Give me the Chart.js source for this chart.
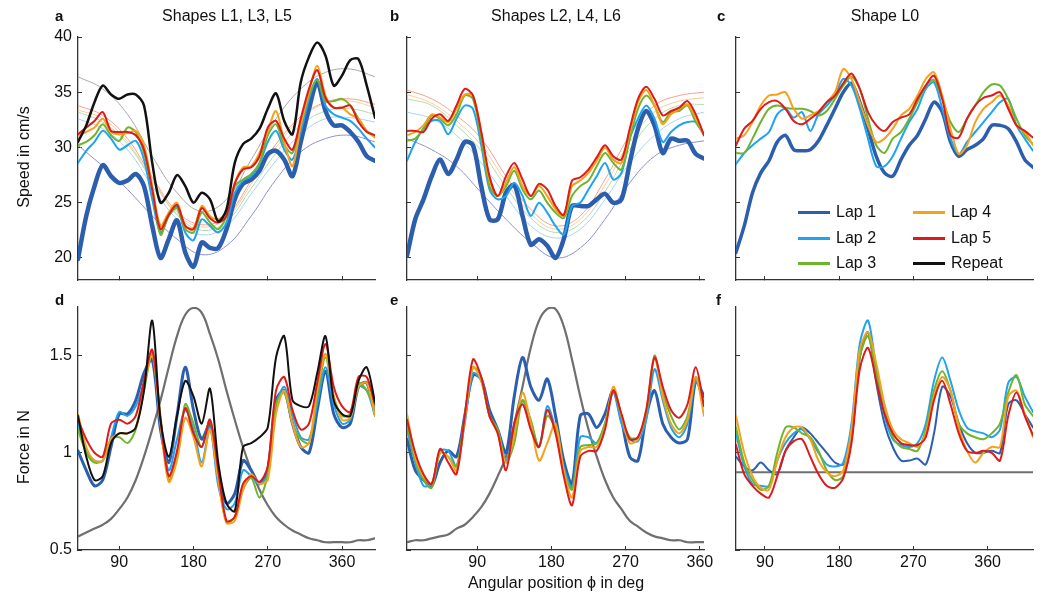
<!DOCTYPE html>
<html>
<head>
<meta charset="utf-8">
<title>Speed and force per lap</title>
<script src="https://cdn.jsdelivr.net/npm/chart.js@4.4.1/dist/chart.umd.min.js"></script>
<style>
  body { margin: 0; background: #fff; width: 1050px; height: 598px; position: relative; overflow: hidden;
         font-family: "Liberation Sans", Arial, sans-serif; color: #111; }
  canvas { position: absolute; }
  .txt { position: absolute; font-size: 16px; line-height: 16px; white-space: nowrap; }
  .letter { position: absolute; font-size: 15px; line-height: 15px; font-weight: bold; }
  .center { transform: translateX(-50%); }
  .ytitle { position: absolute; font-size: 16px; line-height: 16px; white-space: nowrap;
            transform: translate(-50%, -50%) rotate(-90deg); }
  .leg { position: absolute; height: 20px; display: flex; align-items: center; font-size: 16px; }
  .leg span.ln { display: inline-block; width: 32px; height: 3px; margin-right: 6px; }
</style>
</head>
<body>

<canvas id="pa"></canvas>
<canvas id="pb"></canvas>
<canvas id="pc"></canvas>
<canvas id="pd"></canvas>
<canvas id="pe"></canvas>
<canvas id="pf"></canvas>

<div class="letter" style="left:55px;top:8px">a</div>
<div class="letter" style="left:390px;top:8px">b</div>
<div class="letter" style="left:717px;top:8px">c</div>
<div class="letter" style="left:55px;top:292px">d</div>
<div class="letter" style="left:390px;top:292px">e</div>
<div class="letter" style="left:716px;top:292px">f</div>

<div class="txt center" style="left:227px;top:8px">Shapes L1, L3, L5</div>
<div class="txt center" style="left:556px;top:8px">Shapes L2, L4, L6</div>
<div class="txt center" style="left:885px;top:8px">Shape L0</div>

<div class="ytitle" style="left:24px;top:157px">Speed in cm/s</div>
<div class="ytitle" style="left:24px;top:447px">Force in N</div>
<div class="txt center" style="left:556px;top:575px">Angular position ϕ in deg</div>

<div id="legend"></div>

<script>
// angles (deg) per column of panels
const anglesAD = [40,50,60,70,80,90,100,110,120,130,140,150,160,170,180,190,200,210,220,230,240,250,260,270,280,290,300,310,320,330,340,350,360,370,380,390,400];
const anglesBE = [5,15,25,35,45,55,65,75,85,95,105,115,125,135,145,155,165,175,185,195,205,215,225,235,245,255,265,275,285,295,305,315,325,335,345,355,365];
const anglesCF = [55,65,75,85,95,105,115,125,135,145,155,165,175,185,195,205,215,225,235,245,255,265,275,285,295,305,315,325,335,345,355,365,375,385,395,405,415];
const fitAnglesA = [40,70,100,130,160,190,220,250,280,310,340,370,400];
const fitAnglesB = [5,35,65,95,125,155,185,215,245,275,305,335,365];
const modelAnglesF = [55,415];

const xTicks = [90,180,270,360];
const speedTicks = [20,25,30,35,40];
const forceTicks = [0.5,1,1.5];

// a: speed, shapes L1, L3, L5
const speedA_lap1 = [19.9,23.8,26.5,28.4,27.4,26.8,27.0,27.6,26.5,22.9,20.0,21.7,23.4,20.5,19.2,21.4,20.9,20.9,22.6,25.3,26.7,27.1,27.9,29.4,29.7,28.9,27.4,30.5,33.5,35.9,33.3,32.0,32.0,31.4,30.5,29.2,28.8];
const speedA_lap2 = [28.6,29.7,30.5,31.5,30.8,29.8,30.2,30.6,28.9,25.3,22.3,23.8,24.6,22.3,21.6,23.5,22.9,22.3,23.2,25.9,27.0,27.4,28.5,30.5,31.5,29.8,28.9,31.4,34.4,36.2,33.8,33.0,32.7,32.4,31.7,30.8,30.0];
const speedA_lap3 = [30.2,30.5,31.1,32.1,31.1,30.6,31.8,31.4,29.5,26.2,22.1,23.8,24.5,22.6,22.3,24.1,23.2,22.6,23.8,26.5,27.1,27.6,28.6,31.1,32.1,30.2,29.5,32.0,34.7,36.1,34.2,34.2,34.4,33.8,32.6,31.5,31.1];
const speedA_lap4 = [31.1,31.4,31.8,32.6,31.4,31.2,31.3,31.5,30.2,26.5,22.9,24.1,25.0,22.9,22.7,24.7,23.8,23.5,24.1,26.8,28.2,28.3,29.5,31.5,33.3,30.5,28.3,32.0,35.0,37.4,34.7,33.6,33.6,33.0,32.6,31.5,30.9];
const speedA_lap5 = [31.2,31.8,32.4,33.2,31.5,31.4,31.4,31.1,29.8,26.2,22.6,23.9,24.8,22.9,22.6,24.5,23.6,23.2,23.8,26.7,28.0,28.2,29.2,31.8,32.4,30.8,29.8,32.6,35.3,37.0,34.5,33.6,33.6,33.8,32.3,31.4,31.1];
const speedA_repeat = [30.5,32.0,34.1,35.6,34.8,34.4,34.8,34.8,33.8,28.6,25.0,25.9,27.5,26.5,25.0,25.9,25.3,23.3,24.4,28.6,30.3,30.8,31.7,33.5,34.9,32.4,31.2,35.9,38.2,39.5,38.3,35.6,36.5,37.9,38.0,35.6,32.7];
const fitA_lap1 = [30.2,28.3,26.2,23.8,21.7,20.3,21.1,23.8,27.1,29.6,30.8,31.1,30.5];
const fitA_lap2 = [32.6,31.7,29.8,26.5,23.5,22.1,22.9,25.8,28.8,31.2,32.6,32.7,32.3];
const fitA_lap3 = [33.2,32.3,30.3,27.0,23.9,22.5,23.3,26.3,29.5,32.0,33.3,33.5,33.0];
const fitA_lap4 = [33.4,32.6,30.5,27.1,24.0,22.8,23.6,26.7,30.0,32.6,34.0,34.2,33.6];
const fitA_lap5 = [33.8,32.9,30.8,27.3,24.2,23.0,23.8,27.0,30.3,32.8,34.1,34.4,33.9];
const fitA_repeat = [36.4,35.3,33.0,29.2,25.9,24.2,25.3,28.9,32.6,35.3,36.8,37.1,36.4];

// b: speed, shapes L2, L4, L6
const speedB_lap1 = [20.2,23.5,25.3,27.4,28.9,27.6,28.9,30.5,30.2,26.5,23.5,23.5,25.9,26.6,23.8,21.2,21.7,21.1,20.0,21.7,24.7,24.7,24.7,25.3,25.8,25.0,25.3,28.6,31.7,33.3,32.0,29.5,30.8,30.6,30.6,29.4,29.0];
const speedB_lap2 = [28.8,30.5,31.7,32.4,32.4,31.2,32.6,33.8,33.5,30.2,26.2,25.3,25.6,26.8,25.6,23.8,25.0,24.1,22.9,22.1,24.7,25.0,26.2,27.4,28.6,27.1,27.7,30.8,32.6,33.8,32.6,30.5,31.4,32.0,32.3,32.3,31.1];
const speedB_lap3 = [30.6,30.8,31.7,32.9,32.6,32.0,33.0,34.7,34.4,30.8,26.5,25.6,26.5,27.9,26.2,25.3,26.1,25.0,24.1,23.6,25.6,26.5,27.0,28.3,29.5,28.6,28.0,30.8,33.5,34.7,33.8,32.3,33.2,33.3,33.8,32.3,31.2];
const speedB_lap4 = [31.1,31.4,32.0,33.0,32.7,32.3,33.5,34.8,34.7,31.4,27.1,25.6,26.8,28.2,26.5,25.6,26.5,25.6,24.4,23.8,26.5,27.0,27.7,28.8,30.0,28.9,28.6,31.4,34.1,35.2,33.8,32.1,33.0,33.5,33.9,32.7,31.1];
const speedB_lap5 = [31.5,31.5,31.4,32.6,33.0,32.4,33.8,35.3,34.7,31.4,27.4,25.6,27.4,28.6,27.1,25.6,26.7,26.2,24.7,23.9,27.0,27.3,28.0,29.1,30.2,29.2,28.9,31.7,34.4,35.5,34.4,32.9,33.3,33.6,34.2,33.0,31.1];
const fitB_lap1 = [30.8,29.8,28.3,25.9,23.5,21.4,20.0,20.9,23.5,26.8,29.2,30.2,30.6];
const fitB_lap2 = [33.2,32.6,31.1,28.6,25.6,22.9,21.8,22.6,25.3,28.6,31.1,32.6,33.2];
const fitB_lap3 = [34.4,33.8,32.0,29.7,26.4,23.6,22.3,23.1,26.0,29.8,32.6,33.8,33.9];
const fitB_lap4 = [34.8,34.0,32.4,30.2,26.9,24.0,22.6,23.5,26.6,30.5,33.2,34.2,34.5];
const fitB_lap5 = [35.2,34.4,32.9,30.8,27.4,24.4,22.9,23.8,27.1,31.1,33.8,34.7,35.0];

// c: speed, shape L0
const speedC_lap1 = [20.5,22.9,25.9,27.7,28.8,30.5,31.1,29.8,29.7,29.8,30.6,32.0,33.5,35.0,35.8,34.1,31.7,29.2,27.7,27.4,28.9,30.2,31.1,32.6,34.1,33.2,30.5,29.2,29.8,30.2,30.8,32.0,32.0,31.7,30.5,28.9,28.2];
const speedC_lap2 = [28.5,29.5,30.2,30.8,31.4,33.0,33.5,32.7,33.2,31.5,33.0,33.8,34.7,36.2,35.6,33.5,30.8,28.3,28.3,29.2,30.8,32.3,33.5,35.3,35.9,33.5,30.8,29.4,30.5,31.4,32.3,33.2,34.1,34.4,32.0,30.8,29.7];
const speedC_lap3 = [29.5,29.5,30.8,32.3,33.5,33.8,33.6,33.5,33.5,33.3,32.9,33.3,34.4,35.6,36.4,35.3,32.6,30.2,29.5,30.8,31.4,32.6,34.1,35.6,36.1,34.4,32.3,31.4,32.6,33.8,35.0,35.7,35.6,34.4,32.6,31.1,30.3];
const speedC_lap4 = [30.8,31.1,32.3,33.8,34.7,34.8,35.0,33.5,32.6,32.9,33.3,34.1,35.0,37.1,36.2,34.1,32.0,30.5,30.8,31.7,32.9,33.5,34.7,36.2,36.8,34.7,31.7,29.4,30.2,32.3,33.5,34.1,34.7,33.8,32.0,31.4,30.2];
const speedC_lap5 = [30.2,31.7,32.4,33.5,34.1,34.2,33.5,32.4,32.1,32.6,33.2,34.1,34.7,35.8,36.7,35.3,33.2,32.0,31.5,32.3,32.7,33.0,34.4,35.6,36.5,34.4,31.1,30.9,32.6,33.8,34.5,34.7,35.0,33.5,32.0,31.5,30.9];

// d: force, shapes L1, L3, L5
const forceD_lap1 = [1.01,0.91,0.83,0.86,1.03,1.20,1.20,1.27,1.41,1.48,1.12,0.95,1.19,1.44,1.22,1.07,1.15,0.88,0.74,0.79,0.96,0.91,0.84,0.91,1.27,1.32,1.15,1.03,1.00,1.22,1.42,1.20,1.13,1.15,1.34,1.36,1.20];
const forceD_lap2 = [1.15,1.01,0.96,0.96,1.08,1.21,1.19,1.24,1.36,1.52,1.15,0.91,1.07,1.22,1.12,0.95,1.13,0.83,0.71,0.74,0.91,0.88,0.84,0.89,1.24,1.34,1.20,1.08,1.07,1.25,1.44,1.25,1.15,1.17,1.34,1.32,1.19];
const forceD_lap3 = [1.12,1.00,0.95,0.96,1.07,1.08,1.05,1.12,1.32,1.51,1.19,0.86,0.98,1.25,1.15,1.03,1.17,0.88,0.64,0.67,0.81,0.87,0.77,0.89,1.25,1.31,1.15,1.07,1.05,1.29,1.49,1.29,1.19,1.20,1.36,1.32,1.23];
const forceD_lap4 = [1.20,1.03,0.96,0.96,1.07,1.10,1.10,1.13,1.34,1.51,1.15,0.85,0.96,1.18,1.08,0.93,1.12,0.86,0.64,0.65,0.81,0.89,0.84,0.86,1.20,1.32,1.15,1.03,1.05,1.32,1.51,1.29,1.17,1.18,1.34,1.36,1.19];
const forceD_lap5 = [1.17,1.07,1.00,0.98,1.15,1.17,1.15,1.19,1.37,1.53,1.17,0.88,1.01,1.23,1.10,1.03,1.17,0.91,0.65,0.67,0.84,0.88,0.85,0.93,1.32,1.39,1.22,1.12,1.15,1.36,1.56,1.34,1.24,1.21,1.39,1.39,1.25];
const forceD_repeat = [1.19,0.98,0.86,0.88,1.05,1.10,1.10,1.13,1.32,1.68,1.17,0.98,1.19,1.37,1.29,1.15,1.33,0.95,0.74,0.70,1.03,1.05,1.08,1.13,1.49,1.60,1.27,1.24,1.24,1.41,1.60,1.27,1.20,1.19,1.37,1.44,1.26];
const forceD_model = [0.57,0.59,0.61,0.63,0.66,0.71,0.77,0.86,0.98,1.12,1.27,1.44,1.60,1.71,1.745,1.72,1.61,1.48,1.32,1.17,1.03,0.91,0.81,0.73,0.67,0.63,0.60,0.58,0.56,0.55,0.54,0.54,0.54,0.54,0.55,0.55,0.56];

// e: force, shapes L2, L4, L6
const forceE_lap1 = [1.07,0.91,0.86,0.83,0.95,1.01,0.98,1.19,1.40,1.38,1.22,1.12,1.00,1.29,1.49,1.34,1.27,1.38,1.19,0.96,0.84,1.19,1.20,1.13,1.20,1.32,1.17,0.98,0.96,1.19,1.32,1.15,1.08,1.05,1.07,1.37,1.29];
const forceE_lap2 = [1.12,0.95,0.83,0.84,1.01,1.01,0.93,1.15,1.41,1.37,1.19,1.12,0.96,1.12,1.27,1.15,1.03,1.24,1.12,0.93,0.82,1.08,1.08,1.05,1.15,1.31,1.15,1.07,1.06,1.17,1.43,1.27,1.13,1.08,1.15,1.37,1.24];
const forceE_lap3 = [1.15,0.96,0.86,0.82,1.00,0.98,0.93,1.19,1.44,1.39,1.19,1.12,0.95,1.05,1.27,1.17,1.03,1.19,1.12,0.91,0.81,1.03,1.04,1.05,1.15,1.32,1.19,1.08,1.08,1.20,1.50,1.31,1.19,1.12,1.19,1.39,1.24];
const forceE_lap4 = [1.20,0.98,0.88,0.84,1.00,0.98,0.91,1.17,1.44,1.37,1.19,1.10,0.95,1.09,1.31,1.15,0.96,1.05,1.15,0.91,0.77,1.01,1.03,1.03,1.13,1.34,1.19,1.05,1.07,1.22,1.49,1.29,1.15,1.10,1.17,1.39,1.19];
const forceE_lap5 = [1.17,1.00,0.89,0.84,1.02,0.95,0.89,1.19,1.48,1.39,1.19,1.10,0.91,1.15,1.25,1.12,1.03,1.22,1.10,0.88,0.73,0.98,1.01,1.01,1.12,1.32,1.20,1.07,1.08,1.22,1.49,1.34,1.22,1.18,1.25,1.44,1.24];
const forceE_model = [0.54,0.55,0.55,0.56,0.57,0.58,0.61,0.63,0.67,0.72,0.79,0.88,0.98,1.15,1.34,1.54,1.68,1.74,1.74,1.65,1.48,1.29,1.12,0.98,0.86,0.77,0.71,0.65,0.62,0.59,0.57,0.56,0.55,0.55,0.54,0.54,0.54];

// f: force, shape L0
const forceF_lap1 = [0.98,0.93,0.91,0.95,0.91,0.89,1.01,1.08,1.13,1.10,1.05,1.00,0.95,0.94,1.07,1.49,1.62,1.36,1.15,1.03,0.96,0.96,0.97,0.94,1.10,1.34,1.29,1.15,1.05,1.00,1.00,1.01,1.00,1.25,1.27,1.20,1.13];
const forceF_lap2 = [1.10,0.93,0.84,0.83,0.83,0.96,1.05,1.10,1.12,1.07,1.00,0.94,0.93,0.95,1.15,1.56,1.68,1.43,1.19,1.07,1.04,1.03,1.05,1.15,1.37,1.49,1.37,1.22,1.13,1.11,1.10,1.08,1.12,1.36,1.39,1.29,1.21];
const forceF_lap3 = [1.13,0.95,0.86,0.81,0.83,1.00,1.13,1.13,1.10,1.08,1.01,0.91,0.86,0.88,1.10,1.49,1.60,1.41,1.24,1.08,1.03,1.02,1.01,1.12,1.32,1.42,1.32,1.15,1.10,1.08,1.07,1.10,1.15,1.31,1.40,1.25,1.19];
const forceF_lap4 = [1.19,1.00,0.88,0.82,0.81,0.96,1.08,1.13,1.13,1.07,0.96,0.90,0.88,0.91,1.12,1.53,1.62,1.46,1.25,1.12,1.07,1.05,1.03,1.10,1.29,1.39,1.32,1.13,1.01,0.95,1.00,1.03,1.03,1.29,1.32,1.20,1.08];
const forceF_lap5 = [1.04,0.89,0.83,0.79,0.77,0.88,1.01,1.06,1.07,0.98,0.89,0.83,0.82,0.87,1.05,1.43,1.54,1.37,1.20,1.10,1.05,1.04,1.04,1.08,1.27,1.37,1.25,1.10,1.01,1.00,1.01,1.00,0.96,1.19,1.31,1.19,1.09];
const forceF_model = [0.9,0.9];

// colours
const lapNames = ['Lap 1','Lap 2','Lap 3','Lap 4','Lap 5','Repeat'];
const lapColors = ['#2b5fae','#1fa3ee','#6db52c','#f6a11c','#df1a1a','#111111'];
const fitColors = ['#8e8ed2','#a3d4f4','#b5dba2','#f8cc9c','#f2a28c','#a9a9a9'];
const modelColor = '#6f6f6f';

const FONT = '"Liberation Sans", Arial, sans-serif';
// generous top/right padding so tick-label overhang never moves the plot area
const PAD_L = 62, PAD_R = 24, PAD_T = 24, PAD_B = 32;

function pts(xs, ys) {
    return xs.map((x, i) => ({ x: x, y: ys[i] }));
}

function line(xs, ys, color, width, order, tension) {
    return {
        data: pts(xs, ys),
        borderColor: color,
        borderWidth: width,
        order: order,
        tension: tension,
        pointRadius: 0,
        fill: false
    };
}

// one panel = one chart, the plot area lands on box
function panel(id, box, xRange, yRange, yTicks, showX, showY, datasets) {
    const cv = document.getElementById(id);
    const w = PAD_L + box.w + PAD_R, h = PAD_T + box.h + PAD_B;
    cv.width = w; cv.height = h;
    cv.style.width = w + 'px'; cv.style.height = h + 'px';
    cv.style.left = (box.x - PAD_L) + 'px';
    cv.style.top = (box.y - PAD_T) + 'px';

    const axisGrid = { drawOnChartArea: false, drawTicks: true, tickLength: -4, tickColor: '#333', tickWidth: 1 };
    const axisBorder = { display: true, color: '#333', width: 1.3 };

    return new Chart(cv, {
        type: 'line',
        data: { datasets: datasets },
        options: {
            responsive: false,
            animation: false,
            events: [],
            layout: { padding: { top: PAD_T, right: PAD_R, left: 0, bottom: 0 } },
            plugins: { legend: { display: false }, tooltip: { enabled: false } },
            elements: { line: { borderCapStyle: 'round', borderJoinStyle: 'round' } },
            scales: {
                x: {
                    type: 'linear', min: xRange[0], max: xRange[1],
                    afterBuildTicks: s => { s.ticks = xTicks.map(v => ({ value: v })); },
                    afterFit: s => { s.height = PAD_B; },
                    grid: axisGrid, border: axisBorder,
                    ticks: { display: showX, padding: 7, color: '#111', font: { family: FONT, size: 16 },
                             maxRotation: 0, autoSkip: false, callback: v => String(v) }
                },
                y: {
                    type: 'linear', min: yRange[0], max: yRange[1],
                    afterBuildTicks: s => { s.ticks = yTicks.map(v => ({ value: v })); },
                    afterFit: s => { s.width = PAD_L; },
                    grid: axisGrid, border: axisBorder,
                    ticks: { display: showY, padding: 10, color: '#111', font: { family: FONT, size: 16 },
                             autoSkip: false, callback: v => String(v) }
                }
            }
        }
    });
}

const speedRange = [18, 40];
const forceRange = [0.5, 1.75];
const T = 0.3;

// Panel a
panel('pa', { x: 78, y: 37, w: 297, h: 243 }, [40, 400], speedRange, speedTicks, false, true, [
    line(fitAnglesA, fitA_lap1, fitColors[0], 1, 20, 0.4),
    line(fitAnglesA, fitA_lap2, fitColors[1], 1, 19, 0.4),
    line(fitAnglesA, fitA_lap3, fitColors[2], 1, 18, 0.4),
    line(fitAnglesA, fitA_lap4, fitColors[3], 1, 17, 0.4),
    line(fitAnglesA, fitA_lap5, fitColors[4], 1, 16, 0.4),
    line(fitAnglesA, fitA_repeat, fitColors[5], 1, 15, 0.4),
    line(anglesAD, speedA_lap1, lapColors[0], 4.5, 6, T),
    line(anglesAD, speedA_lap2, lapColors[1], 2, 5, T),
    line(anglesAD, speedA_lap3, lapColors[2], 2, 4, T),
    line(anglesAD, speedA_lap4, lapColors[3], 2, 3, T),
    line(anglesAD, speedA_lap5, lapColors[4], 2, 2, T),
    line(anglesAD, speedA_repeat, lapColors[5], 2.5, 1, T)
]);

// Panel b
panel('pb', { x: 407, y: 37, w: 297, h: 243 }, [5, 365], speedRange, speedTicks, false, false, [
    line(fitAnglesB, fitB_lap1, fitColors[0], 1, 20, 0.4),
    line(fitAnglesB, fitB_lap2, fitColors[1], 1, 19, 0.4),
    line(fitAnglesB, fitB_lap3, fitColors[2], 1, 18, 0.4),
    line(fitAnglesB, fitB_lap4, fitColors[3], 1, 17, 0.4),
    line(fitAnglesB, fitB_lap5, fitColors[4], 1, 16, 0.4),
    line(anglesBE, speedB_lap1, lapColors[0], 4.5, 6, T),
    line(anglesBE, speedB_lap2, lapColors[1], 2, 5, T),
    line(anglesBE, speedB_lap3, lapColors[2], 2, 4, T),
    line(anglesBE, speedB_lap4, lapColors[3], 2, 3, T),
    line(anglesBE, speedB_lap5, lapColors[4], 2, 2, T)
]);

// Panel c
panel('pc', { x: 736, y: 37, w: 297, h: 243 }, [55, 415], speedRange, speedTicks, false, false, [
    line(anglesCF, speedC_lap1, lapColors[0], 3.5, 6, T),
    line(anglesCF, speedC_lap2, lapColors[1], 2, 5, T),
    line(anglesCF, speedC_lap3, lapColors[2], 2, 4, T),
    line(anglesCF, speedC_lap4, lapColors[3], 2, 3, T),
    line(anglesCF, speedC_lap5, lapColors[4], 2, 2, T)
]);

// Panel d
panel('pd', { x: 78, y: 307, w: 297, h: 243 }, [40, 400], forceRange, forceTicks, true, true, [
    line(anglesAD, forceD_model, modelColor, 2.2, 10, 0.4),
    line(anglesAD, forceD_lap1, lapColors[0], 3, 6, T),
    line(anglesAD, forceD_lap2, lapColors[1], 2, 5, T),
    line(anglesAD, forceD_lap3, lapColors[2], 2, 4, T),
    line(anglesAD, forceD_lap4, lapColors[3], 2, 3, T),
    line(anglesAD, forceD_lap5, lapColors[4], 2, 2, T),
    line(anglesAD, forceD_repeat, lapColors[5], 2, 1, T)
]);

// Panel e
panel('pe', { x: 407, y: 307, w: 297, h: 243 }, [5, 365], forceRange, forceTicks, true, false, [
    line(anglesBE, forceE_model, modelColor, 2.2, 10, 0.4),
    line(anglesBE, forceE_lap1, lapColors[0], 3, 6, T),
    line(anglesBE, forceE_lap2, lapColors[1], 2, 5, T),
    line(anglesBE, forceE_lap3, lapColors[2], 2, 4, T),
    line(anglesBE, forceE_lap4, lapColors[3], 2, 3, T),
    line(anglesBE, forceE_lap5, lapColors[4], 2, 2, T)
]);

// Panel f
panel('pf', { x: 736, y: 307, w: 297, h: 243 }, [55, 415], forceRange, forceTicks, true, false, [
    line(modelAnglesF, forceF_model, modelColor, 2.2, 10, 0),
    line(anglesCF, forceF_lap1, lapColors[0], 2, 6, T),
    line(anglesCF, forceF_lap2, lapColors[1], 2, 5, T),
    line(anglesCF, forceF_lap3, lapColors[2], 2, 4, T),
    line(anglesCF, forceF_lap4, lapColors[3], 2, 3, T),
    line(anglesCF, forceF_lap5, lapColors[4], 2, 2, T)
]);

// Legend inside panel c (two columns, three rows)
const legendPos = [[798, 202], [798, 228], [798, 253], [913, 202], [913, 228], [913, 253]];
const legendBox = document.getElementById('legend');
lapNames.forEach((name, i) => {
    const item = document.createElement('div');
    item.className = 'leg';
    item.style.left = legendPos[i][0] + 'px';
    item.style.top = legendPos[i][1] + 'px';
    item.innerHTML = '<span class="ln" style="background:' + lapColors[i] + '"></span>' + name;
    legendBox.appendChild(item);
});
</script>
</body>
</html>
